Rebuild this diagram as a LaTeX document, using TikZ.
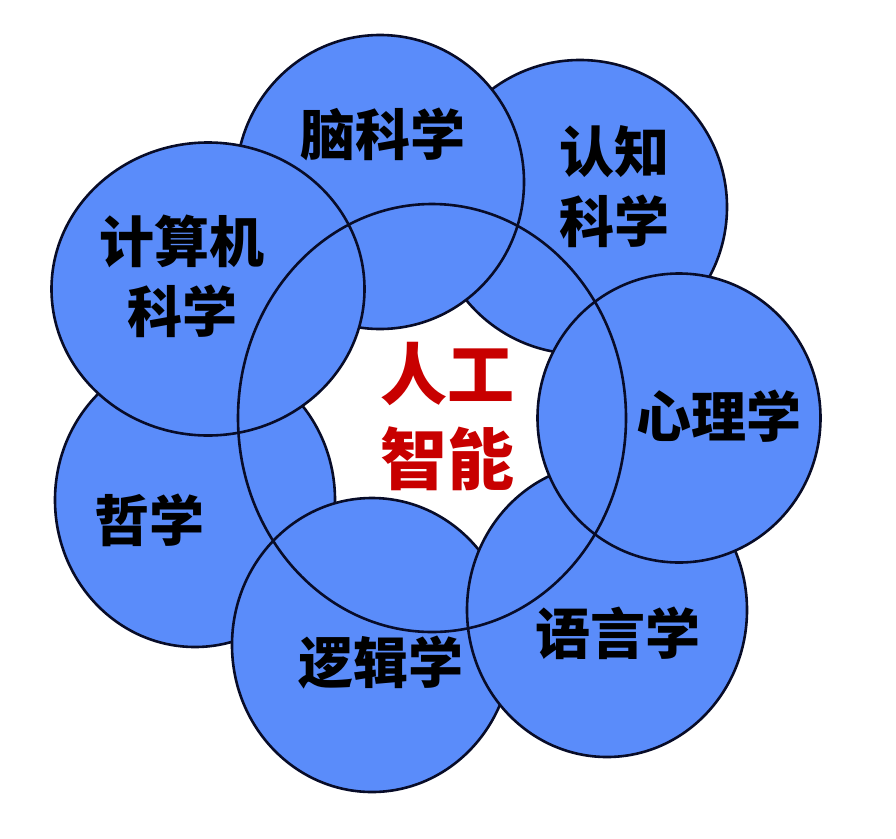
\documentclass[tikz,border=0pt]{standalone}
\usepackage{fontspec}
\newfontfamily\cjk{Noto Sans CJK SC}
\usetikzlibrary{shapes.geometric}
\definecolor{fieldblue}{RGB}{90,140,250}
\definecolor{rim}{RGB}{8,12,40}
\definecolor{aired}{RGB}{200,0,0}

\begin{document}
\begin{tikzpicture}[
x = 1pt, y = -1pt,
every node/.style = {
	font = \cjk\bfseries
},
field/.style = {
	ellipse,
	draw = rim,
	line width = 2.6pt,
	fill = fieldblue,
	inner sep = 0pt
},
subject/.style = {
	align = center,
	inner sep = 0pt,
	font = \cjk\bfseries\fontsize{55}{70}\selectfont
},
core/.style = {
	align = center,
	inner sep = 0pt,
	text = aired,
	font = \cjk\bfseries\fontsize{67}{85}\selectfont
}
]
\useasboundingbox (0,0) rectangle (896,838);

% discs, back to front
\node[field, minimum width=294pt, minimum height=294pt] (cogsci) at (580,207) {};
\node[field, minimum width=280pt, minimum height=294pt] (philo)  at (195,500) {};
\node[field, minimum width=280pt, minimum height=294pt] (logic)  at (372,645) {};
\node[field, minimum width=280pt, minimum height=294pt] (ling)   at (607,610) {};
\node[field, minimum width=283pt, minimum height=289pt] (psych)  at (679,418) {};
\node[field, minimum width=288pt, minimum height=294pt] (brain)  at (380,182) {};
\node[field, minimum width=313pt, minimum height=293pt] (cs)     at (208,289) {};

% ring round the centre
\node[ellipse, draw=rim, line width=2.6pt, minimum width=388pt, minimum height=428pt] (ring) at (432,418) {};

\node[subject] (brainname)  at (383,134) {脑科学};
\node[subject] (cogname)    at (614,187) {认知\\科学};
\node[subject] (csname)     at (182,276) {计算机\\科学};
\node[subject] (psychname)  at (719,416) {心理学};
\node[subject] (philoname)  at (149,520) {哲学};
\node[subject] (logicname)  at (381,663) {逻辑学};
\node[subject] (lingname)   at (618,633) {语言学};

\node[core] (ai) at (447,416) {人工\\智能};
\end{tikzpicture}
\end{document}
